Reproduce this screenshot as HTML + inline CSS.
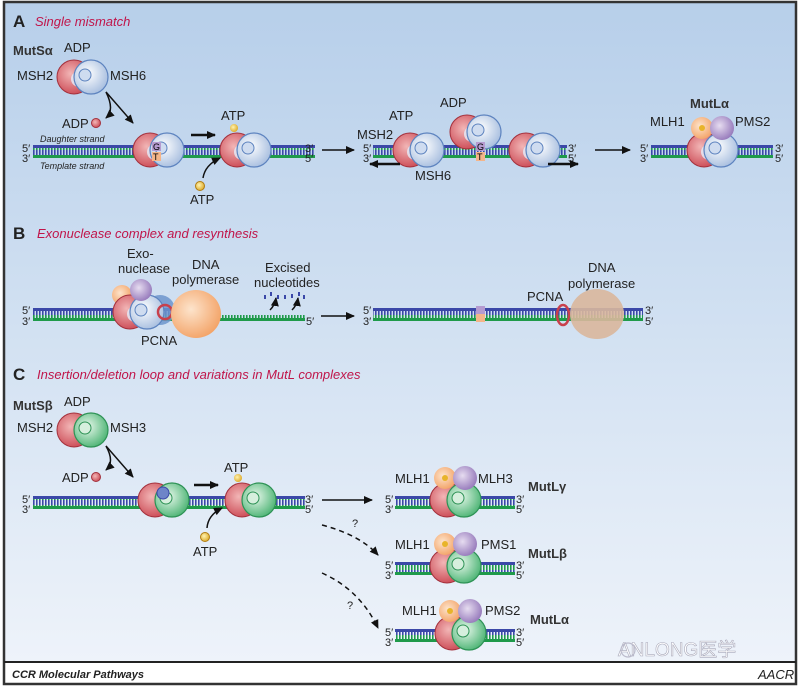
<!DOCTYPE html>
<html><head><meta charset="utf-8"><style>
html,body{margin:0;padding:0;background:#fff}
svg{display:block}
text{font-family:"Liberation Sans",Arial,sans-serif}
</style></head><body>
<svg width="800" height="686" viewBox="0 0 800 686" xmlns="http://www.w3.org/2000/svg">
<defs>
<linearGradient id="bg" x1="0" y1="0" x2="0" y2="1">
<stop offset="0" stop-color="#b7cfea"/><stop offset="0.5" stop-color="#d2e1f2"/><stop offset="1" stop-color="#eef3fa"/>
</linearGradient>
<pattern id="tk" width="3" height="10" patternUnits="userSpaceOnUse">
<rect x="0" y="0" width="1.6" height="5" fill="#3b48a8"/><rect x="0" y="5" width="1.6" height="5" fill="#1f9a4a"/>
</pattern>
<pattern id="tg" width="3" height="10" patternUnits="userSpaceOnUse">
<rect x="0" y="5" width="1.6" height="5" fill="#1f9a4a"/>
</pattern>
<radialGradient id="rd" cx="0.4" cy="0.4" r="0.7"><stop offset="0" stop-color="#f2b6b6"/><stop offset="1" stop-color="#c8404c"/></radialGradient>
<radialGradient id="bl" cx="0.4" cy="0.4" r="0.7"><stop offset="0" stop-color="#ffffff"/><stop offset="1" stop-color="#9fb8dc"/></radialGradient>
<radialGradient id="gr" cx="0.4" cy="0.4" r="0.7"><stop offset="0" stop-color="#e6f7ea"/><stop offset="1" stop-color="#3fae6a"/></radialGradient>
<radialGradient id="or" cx="0.4" cy="0.4" r="0.7"><stop offset="0" stop-color="#fde4cc"/><stop offset="1" stop-color="#f29d5e"/></radialGradient>
<radialGradient id="pu" cx="0.4" cy="0.4" r="0.7"><stop offset="0" stop-color="#e6dcf0"/><stop offset="1" stop-color="#8e70b6"/></radialGradient>
<radialGradient id="yl" cx="0.4" cy="0.4" r="0.7"><stop offset="0" stop-color="#fff3b0"/><stop offset="1" stop-color="#d9a21a"/></radialGradient>
<marker id="ar" markerUnits="userSpaceOnUse" markerWidth="10" markerHeight="10" refX="8" refY="5" orient="auto"><path d="M0,1 L9,5 L0,9 z" fill="#111"/></marker>
<g id="ms">
<circle cx="-8" cy="0" r="17" fill="url(#rd)" stroke="#a3303c" stroke-width="1"/>
<circle cx="-3" cy="2" r="8" fill="#e5eefa" opacity="0.8"/>
<circle cx="9" cy="0" r="17" fill="url(#bl)" stroke="#5d83bf" stroke-width="1.2"/>
<circle cx="3" cy="-2" r="6" fill="#cfdcf0" stroke="#5d83bf"/>
</g>
<g id="msg">
<circle cx="-8" cy="0" r="17" fill="url(#rd)" stroke="#a3303c" stroke-width="1"/>
<circle cx="9" cy="0" r="17" fill="url(#gr)" stroke="#2d9255" stroke-width="1.2"/>
<circle cx="3" cy="-2" r="6" fill="#d6efdd" stroke="#2d9255"/>
</g>
<g id="ml">
<circle cx="-10" cy="-22" r="11" fill="url(#or)"/>
<circle cx="-10" cy="-22" r="3" fill="#e8b42a"/>
<circle cx="10" cy="-22" r="12" fill="url(#pu)"/>
</g>
</defs>
<rect x="0" y="0" width="800" height="686" fill="#fff"/>
<rect x="4" y="2" width="792" height="660" fill="url(#bg)"/>
<rect x="4" y="2" width="792" height="682" fill="none" stroke="#333" stroke-width="2.5"/>
<line x1="4" y1="662" x2="796" y2="662" stroke="#222" stroke-width="2"/>
<text x="12" y="678" font-size="11" font-style="italic" font-weight="bold" fill="#222">CCR Molecular Pathways</text>
<text x="758" y="679" font-size="13" font-style="italic" fill="#222">AACR</text>

<!-- Panel A -->
<text x="13" y="27" font-size="17" font-weight="bold" fill="#222">A</text>
<text x="35" y="26" font-size="13" font-style="italic" fill="#c0154a">Single mismatch</text>
<text x="13" y="55" font-size="13" font-weight="bold" fill="#333">MutSα</text>
<text x="64" y="52" font-size="13" fill="#222">ADP</text>
<text x="17" y="80" font-size="13" fill="#222">MSH2</text>
<text x="110" y="80" font-size="13" fill="#222">MSH6</text>
<use href="#ms" x="82" y="77"/>
<circle cx="96" cy="123" r="4.5" fill="url(#rd)" stroke="#a3303c"/>
<text x="62" y="128" font-size="13" fill="#222">ADP</text>
<path d="M106,92 Q115,110 106,118" fill="none" stroke="#111" stroke-width="1.5" marker-end="url(#ar)"/>
<path d="M106,92 L133,123" fill="none" stroke="#111" stroke-width="1.5" marker-end="url(#ar)"/>
<text x="40" y="142" font-size="9" font-style="italic" fill="#222">Daughter strand</text>
<text x="40" y="169" font-size="9" font-style="italic" fill="#222">Template strand</text>
<text x="22" y="152" font-size="11" fill="#222">5′</text><text x="22" y="162" font-size="11" fill="#222">3′</text>
<rect x="33" y="147" width="282" height="10" fill="url(#tk)"/>
<rect x="33" y="145" width="282" height="3" fill="#3b48a8"/><rect x="33" y="155" width="282" height="3" fill="#1f9a4a"/>
<text x="305" y="152" font-size="11" fill="#222">3′</text><text x="305" y="162" font-size="11" fill="#222">5′</text>
<use href="#ms" x="158" y="150"/>
<rect x="152" y="142" width="9" height="9" fill="#b59bd0"/><text x="153" y="150" font-size="9">G</text>
<rect x="152" y="152" width="9" height="9" fill="#f4b58a"/><text x="153" y="160" font-size="9">T</text>
<line x1="191" y1="135" x2="215" y2="135" stroke="#111" stroke-width="2.5" marker-end="url(#ar)"/>
<use href="#ms" x="245" y="150"/>
<circle cx="234" cy="128" r="4" fill="url(#yl)"/>
<text x="221" y="120" font-size="13" fill="#222">ATP</text>
<circle cx="200" cy="186" r="4.5" fill="url(#yl)" stroke="#b07c10"/>
<text x="190" y="204" font-size="13" fill="#222">ATP</text>
<path d="M203,178 Q205,165 220,158" fill="none" stroke="#111" stroke-width="1.5" marker-end="url(#ar)"/>
<line x1="322" y1="150" x2="354" y2="150" stroke="#111" stroke-width="1.5" marker-end="url(#ar)"/>
<text x="363" y="152" font-size="11" fill="#222">5′</text><text x="363" y="162" font-size="11" fill="#222">3′</text>
<rect x="373" y="147" width="194" height="10" fill="url(#tk)"/>
<rect x="373" y="145" width="194" height="3" fill="#3b48a8"/><rect x="373" y="155" width="194" height="3" fill="#1f9a4a"/>
<text x="568" y="152" font-size="11" fill="#222">3′</text><text x="568" y="162" font-size="11" fill="#222">5′</text>
<use href="#ms" x="418" y="150"/>
<use href="#ms" x="475" y="132"/>
<use href="#ms" x="534" y="150"/>
<rect x="476" y="142" width="9" height="9" fill="#b59bd0"/><text x="477" y="150" font-size="9">G</text>
<rect x="476" y="152" width="9" height="9" fill="#f4b58a"/><text x="477" y="160" font-size="9">T</text>
<text x="389" y="120" font-size="13" fill="#222">ATP</text>
<text x="357" y="139" font-size="13" fill="#222">MSH2</text>
<text x="440" y="107" font-size="13" fill="#222">ADP</text>
<text x="415" y="180" font-size="13" fill="#222">MSH6</text>
<line x1="400" y1="164" x2="370" y2="164" stroke="#111" stroke-width="2.5" marker-end="url(#ar)"/>
<line x1="548" y1="164" x2="578" y2="164" stroke="#111" stroke-width="2.5" marker-end="url(#ar)"/>
<line x1="595" y1="150" x2="630" y2="150" stroke="#111" stroke-width="1.5" marker-end="url(#ar)"/>
<text x="640" y="152" font-size="11" fill="#222">5′</text><text x="640" y="162" font-size="11" fill="#222">3′</text>
<rect x="651" y="147" width="122" height="10" fill="url(#tk)"/>
<rect x="651" y="145" width="122" height="3" fill="#3b48a8"/><rect x="651" y="155" width="122" height="3" fill="#1f9a4a"/>
<text x="775" y="152" font-size="11" fill="#222">3′</text><text x="775" y="162" font-size="11" fill="#222">5′</text>
<use href="#ms" x="712" y="150"/>
<use href="#ml" x="712" y="150"/>
<text x="690" y="108" font-size="13" font-weight="bold" fill="#333">MutLα</text>
<text x="650" y="126" font-size="13" fill="#222">MLH1</text>
<text x="735" y="126" font-size="13" fill="#222">PMS2</text>

<!-- Panel B -->
<text x="13" y="239" font-size="17" font-weight="bold" fill="#222">B</text>
<text x="37" y="238" font-size="13" font-style="italic" fill="#c0154a">Exonuclease complex and resynthesis</text>
<text x="22" y="314" font-size="11" fill="#222">5′</text><text x="22" y="325" font-size="11" fill="#222">3′</text>
<rect x="33" y="310" width="272" height="10" fill="url(#tg)"/>
<rect x="33" y="310" width="140" height="10" fill="url(#tk)"/>
<rect x="33" y="308" width="140" height="3" fill="#3b48a8"/><rect x="33" y="318" width="272" height="3" fill="#1f9a4a"/>
<text x="306" y="325" font-size="11" fill="#222">5′</text>
<circle cx="122" cy="295" r="10" fill="url(#or)"/>
<circle cx="160" cy="310" r="15" fill="#6d95cc" opacity="0.85"/>
<use href="#ms" x="138" y="312"/>
<circle cx="141" cy="290" r="11" fill="url(#pu)"/>
<circle cx="165" cy="312" r="7" fill="none" stroke="#c8404c" stroke-width="2.5"/>
<ellipse cx="196" cy="314" rx="25" ry="24" fill="url(#or)"/>
<text x="127" y="258" font-size="13" fill="#222">Exo-</text>
<text x="118" y="273" font-size="13" fill="#222">nuclease</text>
<text x="192" y="269" font-size="13" fill="#222">DNA</text>
<text x="172" y="284" font-size="13" fill="#222">polymerase</text>
<text x="141" y="345" font-size="13" fill="#222">PCNA</text>
<text x="265" y="272" font-size="13" fill="#222">Excised</text>
<text x="254" y="287" font-size="13" fill="#222">nucleotides</text>
<g fill="#3b48a8"><rect x="264" y="295" width="2" height="4"/><rect x="270" y="292" width="2" height="4"/><rect x="277" y="295" width="2" height="4"/><rect x="284" y="295" width="2" height="4"/><rect x="291" y="294" width="2" height="4"/><rect x="298" y="292" width="2" height="4"/><rect x="303" y="295" width="2" height="4"/></g>
<path d="M270,310 Q275,305 276,298" fill="none" stroke="#111" stroke-width="1.5" marker-end="url(#ar)"/>
<path d="M292,310 Q297,305 298,298" fill="none" stroke="#111" stroke-width="1.5" marker-end="url(#ar)"/>
<line x1="321" y1="316" x2="354" y2="316" stroke="#111" stroke-width="1.5" marker-end="url(#ar)"/>
<text x="363" y="314" font-size="11" fill="#222">5′</text><text x="363" y="325" font-size="11" fill="#222">3′</text>
<rect x="373" y="310" width="270" height="10" fill="url(#tk)"/>
<rect x="373" y="308" width="270" height="3" fill="#3b48a8"/><rect x="373" y="318" width="270" height="3" fill="#1f9a4a"/>
<text x="645" y="314" font-size="11" fill="#222">3′</text><text x="645" y="325" font-size="11" fill="#222">5′</text>
<rect x="476" y="306" width="9" height="8" fill="#b59bd0"/><rect x="476" y="314" width="9" height="8" fill="#f4b58a"/>
<ellipse cx="563" cy="315" rx="6" ry="10" fill="none" stroke="#c8404c" stroke-width="2.5"/>
<ellipse cx="597" cy="314" rx="27" ry="25" fill="#d9b79c" opacity="0.9"/>
<text x="588" y="272" font-size="13" fill="#222">DNA</text>
<text x="568" y="288" font-size="13" fill="#222">polymerase</text>
<text x="527" y="301" font-size="13" fill="#222">PCNA</text>

<!-- Panel C -->
<text x="13" y="380" font-size="17" font-weight="bold" fill="#222">C</text>
<text x="37" y="379" font-size="13" font-style="italic" fill="#c0154a">Insertion/deletion loop and variations in MutL complexes</text>
<text x="13" y="410" font-size="13" font-weight="bold" fill="#333">MutSβ</text>
<text x="64" y="406" font-size="13" fill="#222">ADP</text>
<text x="17" y="432" font-size="13" fill="#222">MSH2</text>
<text x="110" y="432" font-size="13" fill="#222">MSH3</text>
<use href="#msg" x="82" y="430"/>
<circle cx="96" cy="477" r="4.5" fill="url(#rd)" stroke="#a3303c"/>
<text x="62" y="482" font-size="13" fill="#222">ADP</text>
<path d="M106,446 Q115,462 106,470" fill="none" stroke="#111" stroke-width="1.5" marker-end="url(#ar)"/>
<path d="M106,446 L133,477" fill="none" stroke="#111" stroke-width="1.5" marker-end="url(#ar)"/>
<text x="22" y="503" font-size="11" fill="#222">5′</text><text x="22" y="513" font-size="11" fill="#222">3′</text>
<rect x="33" y="498" width="272" height="10" fill="url(#tk)"/>
<rect x="33" y="496" width="272" height="3" fill="#3b48a8"/><rect x="33" y="506" width="272" height="3" fill="#1f9a4a"/>
<text x="305" y="503" font-size="11" fill="#222">3′</text><text x="305" y="513" font-size="11" fill="#222">5′</text>
<use href="#msg" x="163" y="500"/>
<circle cx="163" cy="493" r="6" fill="#6d85c8" stroke="#3b48a8"/>
<line x1="194" y1="485" x2="218" y2="485" stroke="#111" stroke-width="2.5" marker-end="url(#ar)"/>
<use href="#msg" x="250" y="500"/>
<circle cx="238" cy="478" r="4" fill="url(#yl)"/>
<text x="224" y="472" font-size="13" fill="#222">ATP</text>
<circle cx="205" cy="537" r="4.5" fill="url(#yl)" stroke="#b07c10"/>
<text x="193" y="556" font-size="13" fill="#222">ATP</text>
<path d="M207,528 Q208,515 222,508" fill="none" stroke="#111" stroke-width="1.5" marker-end="url(#ar)"/>
<line x1="322" y1="500" x2="372" y2="500" stroke="#111" stroke-width="1.5" marker-end="url(#ar)"/>
<path d="M322,525 Q360,535 378,555" fill="none" stroke="#111" stroke-width="1.5" stroke-dasharray="5,4" marker-end="url(#ar)"/>
<text x="352" y="527" font-size="11" fill="#222">?</text>
<path d="M322,573 Q360,590 378,628" fill="none" stroke="#111" stroke-width="1.5" stroke-dasharray="5,4" marker-end="url(#ar)"/>
<text x="347" y="609" font-size="11" fill="#222">?</text>
<g>
<text x="385" y="503" font-size="11" fill="#222">5′</text><text x="385" y="513" font-size="11" fill="#222">3′</text>
<rect x="395" y="498" width="120" height="10" fill="url(#tk)"/>
<rect x="395" y="496" width="120" height="3" fill="#3b48a8"/><rect x="395" y="506" width="120" height="3" fill="#1f9a4a"/>
<text x="516" y="503" font-size="11" fill="#222">3′</text><text x="516" y="513" font-size="11" fill="#222">5′</text>
<use href="#msg" x="455" y="500"/><use href="#ml" x="455" y="500"/>
<text x="395" y="483" font-size="13" fill="#222">MLH1</text><text x="478" y="483" font-size="13" fill="#222">MLH3</text>
<text x="528" y="491" font-size="13" font-weight="bold" fill="#333">MutLγ</text>
</g>
<g>
<text x="385" y="569" font-size="11" fill="#222">5′</text><text x="385" y="579" font-size="11" fill="#222">3′</text>
<rect x="395" y="564" width="120" height="10" fill="url(#tk)"/>
<rect x="395" y="562" width="120" height="3" fill="#3b48a8"/><rect x="395" y="572" width="120" height="3" fill="#1f9a4a"/>
<text x="516" y="569" font-size="11" fill="#222">3′</text><text x="516" y="579" font-size="11" fill="#222">5′</text>
<use href="#msg" x="455" y="566"/><use href="#ml" x="455" y="566"/>
<text x="395" y="549" font-size="13" fill="#222">MLH1</text><text x="481" y="549" font-size="13" fill="#222">PMS1</text>
<text x="528" y="558" font-size="13" font-weight="bold" fill="#333">MutLβ</text>
</g>
<g>
<text x="385" y="636" font-size="11" fill="#222">5′</text><text x="385" y="646" font-size="11" fill="#222">3′</text>
<rect x="395" y="631" width="120" height="10" fill="url(#tk)"/>
<rect x="395" y="629" width="120" height="3" fill="#3b48a8"/><rect x="395" y="639" width="120" height="3" fill="#1f9a4a"/>
<text x="516" y="636" font-size="11" fill="#222">3′</text><text x="516" y="646" font-size="11" fill="#222">5′</text>
<use href="#msg" x="460" y="633"/><use href="#ml" x="460" y="633"/>
<text x="402" y="615" font-size="13" fill="#222">MLH1</text><text x="485" y="615" font-size="13" fill="#222">PMS2</text>
<text x="530" y="624" font-size="13" font-weight="bold" fill="#333">MutLα</text>
</g>
<text x="618" y="656" font-size="19" fill="#ffffff" stroke="#aab" stroke-width="0.6" font-family="Liberation Sans, Noto Sans CJK SC, sans-serif">ANLONG医学</text>
<circle cx="628" cy="650" r="7" fill="none" stroke="#bbc" stroke-width="1.2"/>
</svg>
</body></html>
